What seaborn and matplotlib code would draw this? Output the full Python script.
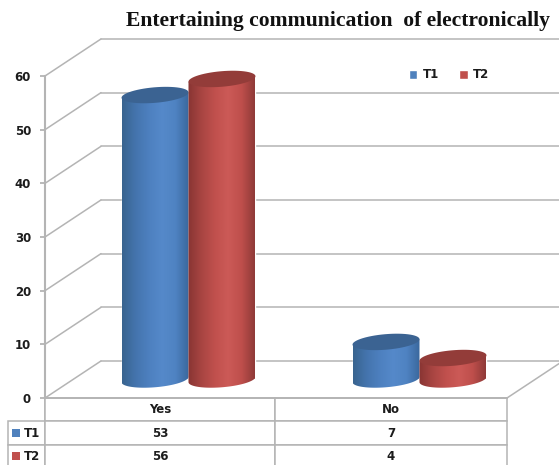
import numpy as np
import pandas as pd
import matplotlib
matplotlib.use("Agg")
import matplotlib.pyplot as plt
from matplotlib.colors import LinearSegmentedColormap
from matplotlib.patches import Polygon, Rectangle
from matplotlib.path import Path
import seaborn as sns

# Survey answers
answers = ["Yes", "No"]
series_names = ["T1", "T2"]
t1_values = [53, 7]
t2_values = [56, 4]
axis_ticks = [0, 10, 20, 30, 40, 50, 60]
chart_title = "Entertaining communication  of electronically"

body_colors = {"T1": "#4f81bd", "T2": "#c0504d"}
cap_colors = {"T1": "#3b6392", "T2": "#933c39"}
shades = {
    "T1": ["#39648f", "#4474ad", "#4d80bf", "#5589ca", "#4f83c2", "#3a689d"],
    "T2": ["#883533", "#a84542", "#c0504d", "#cc5a57", "#bf4f4c", "#8f3a38"],
}
grid_color = "#b4b4b4"
text_color = "#1c1c1c"

# Depth of the 3D box, in data units along each axis
DEPTH_X = 0.2424
DEPTH_Y = 6.9
# Cap ellipse: half height and the rise of its long axis towards the right
CAP_RY = 1.45
CAP_TILT = 0.5

sns.set_theme(style="white")
plt.rcParams["font.family"] = ["DejaVu Sans"]

W, H = 559, 465
fig = plt.figure(figsize=(W / 100, H / 100), dpi=100)
ax = fig.add_axes([45 / W, (H - 398) / H, 462 / W, 322 / H])

frame = pd.DataFrame({
    "answer": answers * 2,
    "series": [series_names[0]] * 2 + [series_names[1]] * 2,
    "value": t1_values + t2_values,
})
sns.barplot(data=frame, x="answer", y="value", hue="series", hue_order=series_names,
            order=answers, palette=body_colors, width=0.58, gap=0, saturation=1,
            ax=ax, zorder=3)
ax.set_xlim(-0.5, 1.5)
ax.set_ylim(0, 60)
ax.set_xlabel("")
ax.set_ylabel("")
ax.set_xticks([])
ax.set_yticks(axis_ticks)
ax.tick_params(axis="y", length=3.6, width=1.3, color=grid_color, pad=6.5, left=True)
for label in ax.get_yticklabels():
    label.set_fontsize(8.5)
    label.set_fontweight("bold")
    label.set_color(text_color)

sns.despine(ax=ax, top=True, right=True)
ax.spines["left"].set_color(grid_color)
ax.spines["left"].set_linewidth(1.5)
ax.spines["bottom"].set_color(grid_color)
ax.spines["bottom"].set_linewidth(1.3)

# Wall and floor lines of the box
line_style = dict(color=grid_color, lw=1.1, clip_on=False, zorder=1)
for v in axis_ticks:
    ax.plot([-0.5, -0.5 + DEPTH_X], [v, v + DEPTH_Y], **line_style)
    ax.plot([-0.5 + DEPTH_X, 1.5 + DEPTH_X], [v + DEPTH_Y, v + DEPTH_Y], **line_style)
ax.plot([1.5, 1.5 + DEPTH_X], [0, DEPTH_Y], **line_style)


def cap_points(x0, width, level, start=0.0, stop=2 * np.pi):
    """Points along a tilted ellipse centred over the bar at the given level."""
    t = np.linspace(start, stop, 60)
    xs = x0 + width / 2 + width / 2 * np.cos(t)
    ys = level + CAP_RY * np.sin(t) + CAP_TILT * np.cos(t)
    return np.column_stack([xs, ys])


def cylinder_outline(x0, width, base, top):
    """Closed outline of the body: rounded base, straight sides, slanted top."""
    arc = cap_points(x0, width, base, np.pi, 2 * np.pi)
    verts = np.vstack([arc, [(x0 + width, top + CAP_TILT), (x0, top - CAP_TILT), arc[0]]])
    codes = [Path.MOVETO] + [Path.LINETO] * (len(verts) - 2) + [Path.CLOSEPOLY]
    return Path(verts, codes)


# Turn each bar into a shaded cylinder standing mid-way into the box
for order, (container, name) in enumerate(zip(ax.containers, series_names)):
    cmap = LinearSegmentedColormap.from_list(name, shades[name])
    for bar in container:
        x0, width, height = bar.get_x() + DEPTH_X / 2, bar.get_width(), bar.get_height()
        base = DEPTH_Y / 2
        top = base + height
        bar.set_x(x0)
        bar.set_y(base)
        bar.set_clip_on(False)
        z = 3 + order
        image = ax.imshow(np.linspace(0, 1, 200)[None, :], cmap=cmap, aspect="auto",
                          extent=[x0, x0 + width, base - 2 * CAP_RY, top + CAP_TILT],
                          origin="lower", interpolation="bilinear", zorder=z + 0.1)
        image.set_clip_path(cylinder_outline(x0, width, base, top), ax.transData)
        ax.add_patch(Polygon(cap_points(x0, width, top), closed=True,
                             facecolor=cap_colors[name], edgecolor="none",
                             clip_on=False, zorder=z + 0.2))
ax.set_xlim(-0.5, 1.5)
ax.set_ylim(0, 60)

# Legend inside the plot
sns.move_legend(ax, "center", bbox_to_anchor=(449 / W, (H - 75) / H),
                bbox_transform=fig.transFigure, ncol=2, title=None, frameon=False,
                handlelength=0.75, handleheight=0.75, handletextpad=0.45,
                columnspacing=1.7, prop={"size": 8.5, "weight": "bold"})
for text in ax.get_legend().get_texts():
    text.set_color(text_color)

# Data table under the axis: the first column holds the series names
cells = [[name] + [str(v) for v in values]
         for name, values in zip(series_names, (t1_values, t2_values))]
table = ax.table(cellText=cells, colLabels=[""] + answers, cellLoc="center",
                 colWidths=[37 / 499, 230 / 499, 232 / 499],
                 bbox=[-37 / 462, -70 / 322, 499 / 462, 70 / 322])
table.auto_set_font_size(False)
table.set_fontsize(8.5)
for (row, col), cell in table.get_celld().items():
    cell.set_edgecolor(grid_color)
    cell.set_linewidth(1.1)
    cell.get_text().set_fontweight("bold")
    cell.get_text().set_color(text_color)
    cell.set_clip_on(False)
    if col == 0:
        if row == 0:
            cell.visible_edges = "R"
        else:
            cell.PAD = 0.43
            cell.get_text().set_ha("left")
            cell._loc = "left"

# Colour keys beside the series names
for y_px, name in zip((433, 456), series_names):
    fig.add_artist(Rectangle((12 / W, (H - y_px - 4) / H), 8 / W, 8 / H,
                             transform=fig.transFigure,
                             facecolor=body_colors[name], edgecolor="none", zorder=5))

fig.text(338 / W, (H - 21) / H, chart_title, ha="center", va="center",
         family="Liberation Serif", fontweight="bold", fontsize=15.6, color="#111111")

fig.savefig("out.png", dpi=100)
